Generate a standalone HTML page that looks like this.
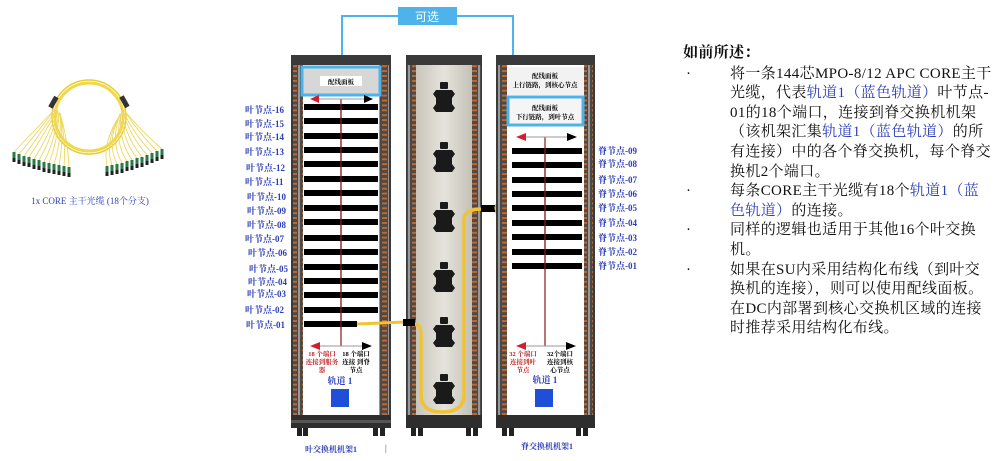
<!DOCTYPE html>
<html><head><meta charset="utf-8">
<style>
html,body{margin:0;padding:0;background:#fff;}
body{width:999px;height:461px;overflow:hidden;position:relative;font-family:"Liberation Serif","Noto Serif CJK SC",serif;}
svg{position:absolute;left:0;top:0;}
.txt{position:absolute;left:683px;top:44px;width:316px;font-size:15px;line-height:19.6px;color:#111;letter-spacing:0.35px;}
.txt .b{position:absolute;left:3px;}
.txt .l{margin-left:47px;white-space:nowrap;}
.bl{color:#2d3fb8;}
</style></head><body>
<svg width="999" height="461" viewBox="0 0 999 461" font-family="Liberation Serif,Noto Serif CJK SC,serif">
<defs>
<pattern id="rail" width="10" height="4.9" patternUnits="userSpaceOnUse">
<rect width="10" height="4.9" fill="#4a4a4a"/><rect x="2" y="1.5" width="5" height="2" fill="#c0682f"/><rect x="8" y="0" width="2" height="4.9" fill="#999"/>
</pattern>
<linearGradient id="mid" x1="0" x2="1"><stop offset="0" stop-color="#c8c5bb"/><stop offset="0.5" stop-color="#e6e3dc"/><stop offset="1" stop-color="#c4c1b7"/></linearGradient>
<g id="cn"><rect x="-1.5" y="0" width="3" height="6" fill="#2a7a4a"/><rect x="-1.5" y="6" width="3" height="4" fill="#222"/></g>
</defs>

<!-- left cable picture -->
<g fill="none" stroke="#f0d84a">
<circle cx="89" cy="117" r="34" stroke-width="3"/>
<circle cx="89" cy="117" r="37" stroke-width="1.5" stroke="#e8cc30"/>
</g>
<g stroke="#ecd860" stroke-width="0.9" fill="none">
<path d="M56 108 Q35 130 14 152"/><path d="M56 108 Q38 132 19 154"/><path d="M57 109 Q40 134 24 156"/><path d="M57 110 Q44 135 29 157"/><path d="M58 110 Q48 137 34 159"/><path d="M58 111 Q52 138 39 160"/><path d="M59 112 Q55 140 44 162"/><path d="M59 112 Q58 140 49 163"/><path d="M60 113 Q62 140 54 164"/><path d="M60 113 Q64 140 59 165"/><path d="M60 113 Q66 140 64 166"/><path d="M60 113 Q68 140 69 167"/>
<path d="M124 110 Q140 130 162 149"/><path d="M124 110 Q138 132 157 151"/><path d="M123 111 Q134 134 152 153"/><path d="M123 112 Q130 136 147 155"/><path d="M122 112 Q126 138 142 157"/><path d="M122 113 Q122 140 137 158"/><path d="M121 113 Q118 140 132 160"/><path d="M121 114 Q114 142 127 161"/><path d="M120 114 Q110 142 122 163"/><path d="M120 115 Q106 142 117 164"/><path d="M120 115 Q104 142 112 165"/><path d="M120 115 Q102 142 107 166"/>
</g>
<g>
<use href="#cn" x="14" y="152"/><use href="#cn" x="19" y="154"/><use href="#cn" x="24" y="156"/><use href="#cn" x="29" y="157"/><use href="#cn" x="34" y="159"/><use href="#cn" x="39" y="160"/><use href="#cn" x="44" y="162"/><use href="#cn" x="49" y="163"/><use href="#cn" x="54" y="164"/><use href="#cn" x="59" y="165"/><use href="#cn" x="64" y="166"/><use href="#cn" x="69" y="167"/>
<use href="#cn" x="162" y="149"/><use href="#cn" x="157" y="151"/><use href="#cn" x="152" y="153"/><use href="#cn" x="147" y="155"/><use href="#cn" x="142" y="157"/><use href="#cn" x="137" y="158"/><use href="#cn" x="132" y="160"/><use href="#cn" x="127" y="161"/><use href="#cn" x="122" y="163"/><use href="#cn" x="117" y="164"/><use href="#cn" x="112" y="165"/><use href="#cn" x="107" y="166"/>
</g>
<rect x="51" y="96" width="5" height="12" fill="#333" transform="rotate(30 53 102)"/>
<rect x="122" y="96" width="5" height="12" fill="#333" transform="rotate(-30 124 102)"/>
<text x="90" y="204" font-size="9" fill="#2d3fb8" text-anchor="middle">1x CORE 主干光缆 (18个分支)</text>

<!-- optional connector -->
<polyline points="342,66 342,16 513,16 513,97" fill="none" stroke="#4db3ea" stroke-width="2"/>
<rect x="398" y="7" width="59" height="18" fill="#4db3ea"/>
<text x="427" y="21" font-size="12" fill="#fff" text-anchor="middle" font-family="Liberation Sans,Noto Sans CJK SC,sans-serif">可选</text>

<!-- LEAF RACK -->
<rect x="291" y="55" width="100" height="373" fill="#3a3a3a"/>
<rect x="293" y="65" width="10" height="350" fill="url(#rail)"/>
<rect x="379" y="65" width="10" height="350" fill="url(#rail)"/>
<rect x="303" y="65" width="76" height="350" fill="#fff"/>
<rect x="291" y="415" width="100" height="13" fill="#2e2e2e"/>
<rect x="291" y="420" width="100" height="3" fill="#555"/>
<g fill="#222"><rect x="297" y="428" width="5" height="8"/><rect x="303" y="428" width="5" height="8"/><rect x="373" y="428" width="5" height="8"/><rect x="380" y="428" width="5" height="8"/></g>
<rect x="302" y="67" width="78" height="28" fill="#d7d7d7" stroke="#4db3ea" stroke-width="3"/>
<rect x="320" y="76" width="42" height="10" fill="#fff"/>
<text x="341" y="84" font-size="6.5" text-anchor="middle" font-weight="bold">配线面板</text>
<line x1="341" y1="99" x2="341" y2="346" stroke="#8b1a1a" stroke-width="1.2"/>
<line x1="313" y1="99" x2="369" y2="99" stroke="#999" stroke-width="1"/>
<polygon points="310,99 319,95 319,103" fill="#d02030"/><polygon points="373,99 364,95 364,103" fill="#000"/>
<g fill="#000">
<rect x="304" y="104" width="74" height="6"/><rect x="304" y="118" width="74" height="6"/><rect x="304" y="133" width="74" height="6"/><rect x="304" y="147" width="74" height="6"/><rect x="304" y="161" width="74" height="6"/><rect x="304" y="176" width="74" height="6"/><rect x="304" y="190" width="74" height="6"/><rect x="304" y="205" width="74" height="6"/><rect x="304" y="219" width="74" height="6"/><rect x="304" y="235" width="74" height="6"/><rect x="304" y="249" width="74" height="6"/><rect x="304" y="264" width="74" height="6"/><rect x="304" y="278" width="74" height="6"/><rect x="304" y="292" width="74" height="6"/><rect x="304" y="307" width="74" height="6"/><rect x="304" y="321" width="53" height="6"/>
</g>
<line x1="341" y1="104" x2="341" y2="330" stroke="#8b1a1a" stroke-width="1.2"/>
<g font-size="9" fill="#2d3fb8" font-weight="bold">
<text x="245" y="113">叶节点-16</text><text x="245" y="127">叶节点-15</text><text x="245" y="140">叶节点-14</text><text x="245" y="155">叶节点-13</text><text x="246" y="171">叶节点-12</text><text x="245" y="185">叶节点-11</text><text x="247" y="200">叶节点-10</text><text x="247" y="214">叶节点-09</text><text x="247" y="228">叶节点-08</text><text x="245" y="242">叶节点-07</text><text x="248" y="256">叶节点-06</text><text x="249" y="272">叶节点-05</text><text x="248" y="285">叶节点-04</text><text x="247" y="297">叶节点-03</text><text x="245" y="313">叶节点-02</text><text x="246" y="328">叶节点-01</text>
</g>
<line x1="316" y1="346" x2="367" y2="346" stroke="#999"/>
<polygon points="310,346 320,342 320,350" fill="#d02030"/><polygon points="372,346 362,342 362,350" fill="#000"/>
<g font-size="6.5" font-weight="bold" text-anchor="middle">
<text x="322" y="356" fill="#c02020">18 个端口</text><text x="322" y="364" fill="#c02020">连接到服务</text><text x="322" y="372" fill="#c02020">器</text>
<text x="356" y="356">18 个端口</text><text x="356" y="364">连接 到脊</text><text x="356" y="372">节点</text>
</g>
<text x="340" y="384" font-size="9" fill="#2d3fb8" text-anchor="middle" font-weight="bold">轨道 1</text>
<rect x="331" y="389" width="18" height="18" fill="#1f4fd8"/>
<text x="305" y="452" font-size="8" fill="#2d3fb8" font-weight="bold">叶交换机机架1</text>
<text x="385" y="451" font-size="9" fill="#2d3fb8">|</text>

<!-- MIDDLE RACK -->
<rect x="406" y="55" width="76" height="373" fill="#3a3a3a"/>
<rect x="407" y="65" width="9" height="350" fill="url(#rail)"/>
<rect x="472" y="65" width="9" height="350" fill="url(#rail)"/>
<rect x="416" y="65" width="56" height="350" fill="url(#mid)"/>
<rect x="406" y="415" width="76" height="13" fill="#2e2e2e"/>
<g fill="#222"><rect x="411" y="428" width="5" height="8"/><rect x="418" y="428" width="5" height="8"/><rect x="466" y="428" width="5" height="8"/><rect x="473" y="428" width="5" height="8"/></g>
<g fill="#1a1a1a">
<g id="br"><rect x="440" y="82" width="8" height="7" rx="1"/><path d="M436 90 h16 l3 4 -3 4 v6 l3 4 -3 4 h-16 l-3 -4 3 -4 v-6 l-3 -4z"/></g>
<use href="#br" y="60"/><use href="#br" y="120"/><use href="#br" y="180"/><use href="#br" y="235"/><use href="#br" y="292"/>
</g>
<path d="M357 324 Q380 323 405 322" stroke="#f1c232" stroke-width="3" fill="none"/>
<path d="M414 324 Q421 324 421 334 L421 395 Q421 412 442 412 Q464 412 464 395 L464 220 Q464 209 482 209" stroke="#f1c232" stroke-width="3.5" fill="none"/>
<rect x="403" y="319" width="12" height="7" fill="#000"/>
<rect x="481" y="205" width="15" height="7" fill="#000"/>
<g stroke="#f1c232" stroke-width="1.3" fill="none">
<path d="M495 208 Q503 180 511 151"/><path d="M495 208 Q504 185 511 165"/><path d="M495 208 Q505 193 511 180"/><path d="M495 208 Q505 200 511 194"/><path d="M495 208 L511 208"/><path d="M495 208 Q505 215 511 223"/><path d="M495 208 Q504 222 511 237"/><path d="M495 208 Q503 230 511 252"/><path d="M495 208 Q502 238 511 266"/>
</g>

<!-- SPINE RACK -->
<rect x="496" y="55" width="99" height="373" fill="#3a3a3a"/>
<rect x="498" y="65" width="9" height="350" fill="url(#rail)"/>
<rect x="584" y="65" width="9" height="350" fill="url(#rail)"/>
<rect x="507" y="65" width="77" height="350" fill="#fff"/>
<rect x="496" y="415" width="99" height="13" fill="#2e2e2e"/>
<g fill="#222"><rect x="502" y="428" width="5" height="8"/><rect x="509" y="428" width="5" height="8"/><rect x="576" y="428" width="5" height="8"/><rect x="583" y="428" width="5" height="8"/></g>
<rect x="507" y="67" width="77" height="28" fill="#f2f2f2"/>
<g font-size="6.5" font-weight="bold" text-anchor="middle">
<text x="545" y="78">配线面板</text><text x="545" y="87">上行链路，到核心节点</text>
</g>
<rect x="508" y="97" width="75" height="28" fill="#f5f5f5" stroke="#4db3ea" stroke-width="3"/>
<g font-size="6.5" font-weight="bold" text-anchor="middle">
<text x="545" y="110">配线面板</text><text x="545" y="119">下行链路，到叶节点</text>
</g>
<line x1="545" y1="137" x2="545" y2="346" stroke="#8b1a1a" stroke-width="1.2"/>
<line x1="520" y1="137" x2="572" y2="137" stroke="#999"/>
<polygon points="516,137 526,133 526,141" fill="#d02030"/><polygon points="577,137 567,133 567,141" fill="#000"/>
<g fill="#000">
<rect x="512" y="148" width="70" height="6"/><rect x="512" y="162" width="70" height="6"/><rect x="512" y="177" width="70" height="6"/><rect x="512" y="191" width="70" height="6"/><rect x="512" y="205" width="70" height="6"/><rect x="512" y="220" width="70" height="6"/><rect x="512" y="234" width="70" height="6"/><rect x="512" y="249" width="70" height="6"/><rect x="512" y="263" width="70" height="6"/>
</g>
<line x1="545" y1="148" x2="545" y2="270" stroke="#8b1a1a" stroke-width="1.2"/>
<g font-size="9" fill="#2d3fb8" font-weight="bold">
<text x="598" y="154">脊节点-09</text><text x="598" y="167">脊节点-08</text><text x="598" y="183">脊节点-07</text><text x="598" y="197">脊节点-06</text><text x="598" y="211">脊节点-05</text><text x="598" y="226">脊节点-04</text><text x="598" y="241">脊节点-03</text><text x="598" y="255">脊节点-02</text><text x="598" y="269">脊节点-01</text>
</g>
<line x1="520" y1="346" x2="571" y2="346" stroke="#999"/>
<polygon points="516,346 526,342 526,350" fill="#d02030"/><polygon points="576,346 566,342 566,350" fill="#000"/>
<g font-size="6.5" font-weight="bold" text-anchor="middle">
<text x="523" y="356" fill="#c02020">32 个端口</text><text x="523" y="364" fill="#c02020">连接到叶</text><text x="523" y="372" fill="#c02020">节点</text>
<text x="560" y="356">32个端口</text><text x="560" y="364">连接到核</text><text x="560" y="372">心节点</text>
</g>
<text x="545" y="383" font-size="9" fill="#2d3fb8" text-anchor="middle" font-weight="bold">轨道 1</text>
<rect x="535" y="389" width="18" height="18" fill="#1f4fd8"/>
<text x="521" y="449" font-size="8" fill="#2d3fb8" font-weight="bold">脊交换机机架1</text>
</svg>

<div class="txt">
<div style="margin-bottom:1px;font-weight:bold;">如前所述：</div>
<div><span class="b">·</span><div class="l">将一条144芯MPO-8/12 APC CORE主干</div><div class="l">光缆，代表<span class="bl">轨道1（蓝色轨道）</span>叶节点-</div><div class="l">01的18个端口，连接到脊交换机机架</div><div class="l">（该机架汇集<span class="bl">轨道1（蓝色轨道）</span>的所</div><div class="l">有连接）中的各个脊交换机，每个脊交</div><div class="l">换机2个端口。</div></div>
<div><span class="b">·</span><div class="l">每条CORE主干光缆有18个<span class="bl">轨道1（蓝</span></div><div class="l"><span class="bl">色轨道）</span>的连接。</div></div>
<div><span class="b">·</span><div class="l">同样的逻辑也适用于其他16个叶交换</div><div class="l">机。</div></div>
<div><span class="b">·</span><div class="l">如果在SU内采用结构化布线（到叶交</div><div class="l">换机的连接），则可以使用配线面板。</div><div class="l">在DC内部署到核心交换机区域的连接</div><div class="l">时推荐采用结构化布线。</div></div>
</div>
</body></html>
